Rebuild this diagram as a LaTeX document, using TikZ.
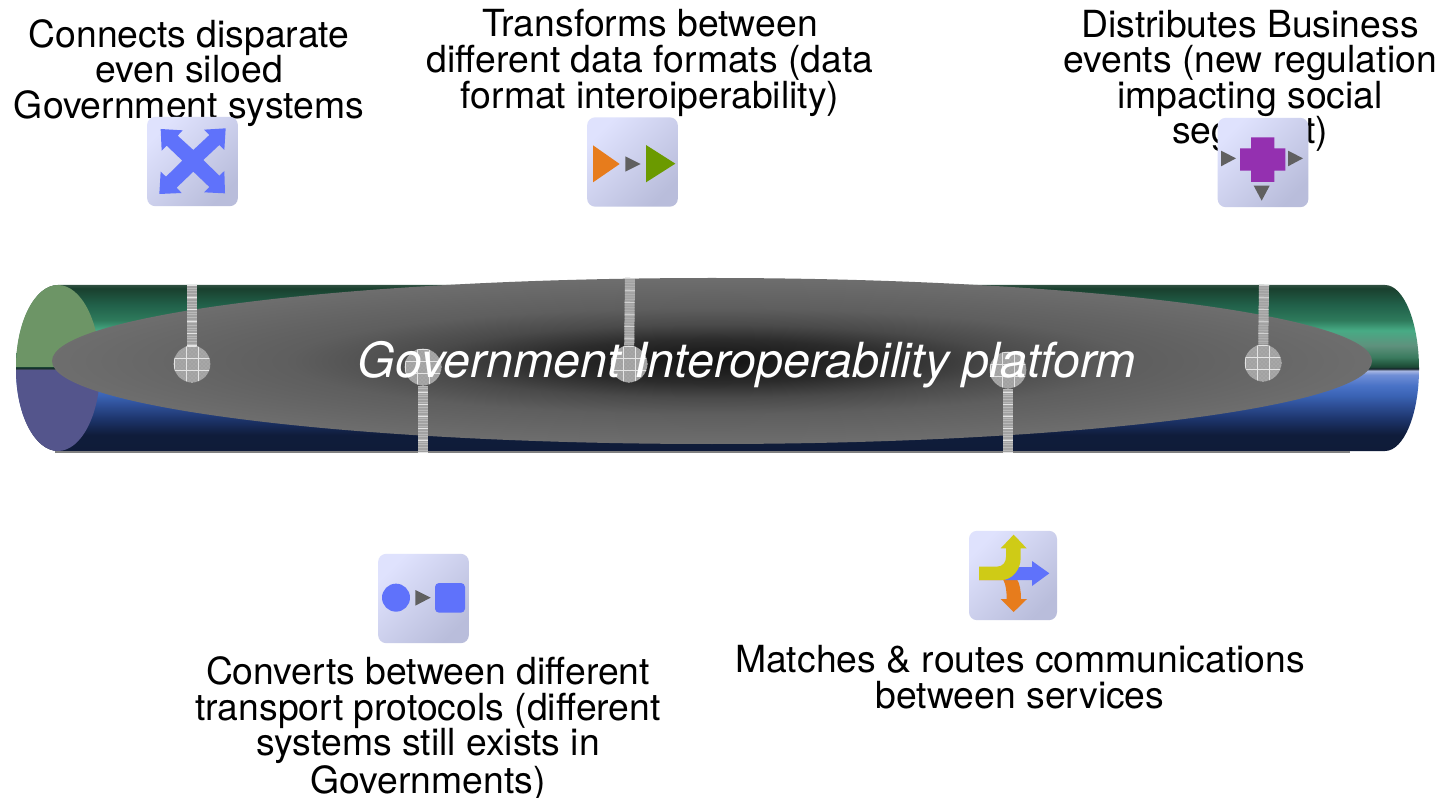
\documentclass[tikz,border=0pt]{standalone}
\usepackage{fontspec}
\setmainfont{TeX Gyre Heros}
\usetikzlibrary{positioning,patterns,shapes.geometric}

\definecolor{capgreen}{HTML}{6D9566}
\definecolor{capblue}{HTML}{54558C}
\definecolor{hubgray}{HTML}{A2A2A2}
\definecolor{hublight}{HTML}{BABABA}
\definecolor{hubgrid}{HTML}{E4E4E4}
\definecolor{glyphgray}{HTML}{606060}
\definecolor{glyphblue}{HTML}{5F72FB}
\definecolor{glyphorange}{HTML}{E77C1C}
\definecolor{glyphgreen}{HTML}{6B9A00}
\definecolor{glyphpurple}{HTML}{9430B0}
\definecolor{glyphyellow}{HTML}{CFCB16}
\definecolor{iconlight}{HTML}{DFE2FD}
\definecolor{icondark}{HTML}{B9BDDB}

\pgfdeclareverticalshading{pipegreen}{100bp}{rgb(0bp)=(.10,.17,.20); rgb(25bp)=(.10,.17,.20); rgb(26.5bp)=(.11,.29,.21);
  rgb(29bp)=(.16,.38,.28); rgb(32bp)=(.23,.48,.37); rgb(39bp)=(.37,.57,.49); rgb(48bp)=(.28,.67,.52);
  rgb(54bp)=(.18,.48,.36); rgb(63bp)=(.13,.38,.29); rgb(73bp)=(.10,.25,.18); rgb(75bp)=(.18,.31,.25); rgb(100bp)=(.18,.31,.25)}
\pgfdeclareverticalshading{pipeblue}{100bp}{rgb(0bp)=(.06,.10,.20); rgb(35bp)=(.06,.11,.23);
  rgb(44bp)=(.11,.20,.41); rgb(53bp)=(.18,.31,.59); rgb(59bp)=(.23,.39,.71); rgb(65bp)=(.29,.45,.78);
  rgb(71.5bp)=(.44,.56,.84); rgb(74bp)=(.66,.72,.89); rgb(75bp)=(.2,.25,.3); rgb(100bp)=(.2,.25,.3)}
\pgfdeclareradialshading{platformglow}{\pgfpoint{0bp}{0bp}}{rgb(0bp)=(.07,.07,.07); rgb(6.5bp)=(.17,.17,.17);
  rgb(11bp)=(.29,.29,.29); rgb(16bp)=(.37,.37,.37); rgb(25bp)=(.43,.43,.43); rgb(100bp)=(.43,.43,.43)}

\tikzset{
  caption/.style={align=center, inner sep=0pt, font=\fontsize{28}{26.7}\selectfont},
  iconbox/.style={rectangle, rounded corners=6pt, inner sep=0pt, minimum width=68pt, minimum height=67pt,
    top color=iconlight, bottom color=icondark, shading angle=45},
  hub/.style={circle, inner sep=0pt, minimum size=27.5pt, pattern=crosshatch dots, pattern color=hublight,
    preaction={fill=hubgray},
    path picture={
      \foreach \d in {-18,-6,6,18} {
        \draw[hubgrid,line width=.5pt] ([xshift=\d*.75pt,yshift=-20pt]path picture bounding box.center)
          -- ([xshift=\d*.75pt,yshift=20pt]path picture bounding box.center);
        \draw[hubgrid,line width=.5pt] ([yshift=\d*.75pt,xshift=-20pt]path picture bounding box.center)
          -- ([yshift=\d*.75pt,xshift=20pt]path picture bounding box.center);
      }}},
  stem/.style={draw=hubgray, line width=7.5pt,
    postaction={draw=hublight, dash pattern=on .5pt off 1.5pt},
    postaction={draw=hubgrid, dash pattern=on .5pt off 8.5pt}},
  glyph/.style={shift={#1}, x=.25pt, y=-.25pt}
}

\begin{document}
\begin{tikzpicture}[x=.75pt,y=-.75pt]
\path[use as bounding box,fill=white] (0,0) rectangle (1442,798);

% pipe
\shade[shading=pipegreen] (16,369) arc[start angle=180,end angle=90,x radius=31.5pt,y radius=63pt]
  -- (1385,285) arc[start angle=90,end angle=0,x radius=25.5pt,y radius=63pt] -- cycle;
\shade[shading=pipeblue] (16,369) arc[start angle=180,end angle=270,x radius=31.5pt,y radius=61.5pt]
  -- (1385,451) arc[start angle=270,end angle=360,x radius=25.5pt,y radius=61.5pt] -- cycle;
\fill[capgreen] (16,367) arc[start angle=180,end angle=0,x radius=31.5pt,y radius=61.5pt] -- cycle;
\fill[capblue] (16,370) arc[start angle=180,end angle=360,x radius=31.5pt,y radius=60.75pt] -- cycle;
\draw[gray,line width=2pt] (55,452) -- (1350,452);

\node[ellipse,shading=platformglow,inner sep=0pt,minimum width=990pt,minimum height=124.5pt] (platform) at (712,361) {};

% hubs and stems
\coordinate (top1) at (192,285);
\coordinate (top2) at (630,278);
\coordinate (top3) at (1264,285);
\coordinate (low1) at (423,453);
\coordinate (low2) at (1008,453);
\node[hub] (hub1) at (192,364) {};
\node[hub] (hub2) at (423,367) {};
\node[hub] (hub3) at (629,364) {};
\node[hub] (hub4) at (1008,370) {};
\node[hub] (hub5) at (1263,363) {};
\draw[stem] (top1) -- (hub1);
\draw[stem] (top2) -- (hub3);
\draw[stem] (top3) -- (hub5);
\draw[stem] (low1) -- (hub2);
\draw[stem] (low2) -- (hub4);

\node[text=white,inner sep=0pt,font=\fontsize{36.3}{36}\selectfont\itshape] (platformtext) at (747,365) {Government Interoperability platform};

% captions
\node[caption] (capconnect) at (189,73) {Connects disparate\\even siloed\\Government systems};
\node[caption] (captransform) at (650,63) {Transforms between\\different data formats (data\\format interoiperability)};
\node[caption] (capdistribute) at (1250,81) {Distributes Business\\events (new regulation\\impacting social\\segment)};
\node[caption] (capconvert) at (428,729) {Converts between different\\transport protocols (different\\systems still exists in\\Governments)};
\node[caption] (capmatch) at (1020,677) {Matches \& routes communications\\between services};

% icons
\node[iconbox] (iconconnect) at (192.5,161.5) {};
\node[iconbox] (icontransform) at (632.5,162) {};
\node[iconbox] (icondistribute) at (1263,162.5) {};
\node[iconbox] (iconconvert) at (423.5,598.5) {};
\node[iconbox,minimum width=66pt] (iconmatch) at (1013,575.5) {};

\begin{scope}[glyph={(130,105)}]
\fill[glyphblue] (92,72) -- (158,76) -- (143,92) -- (190,135) -- (238,90) -- (222,74) -- (287,70) -- (283,135)
  -- (268,120) -- (220,165) -- (268,212) -- (283,198) -- (285,265) -- (222,262) -- (238,246) -- (190,200)
  -- (140,248) -- (155,264) -- (88,267) -- (92,200) -- (108,215) -- (157,167) -- (110,122) -- (95,137) -- cycle;
\end{scope}

\begin{scope}[glyph={(575,105)}]
\fill[glyphorange] (54,121) -- (134,177) -- (54,232) -- cycle;
\fill[glyphgray] (151,154) -- (197,177) -- (151,200) -- cycle;
\fill[glyphgreen] (213,120) -- (301,176) -- (213,232) -- cycle;
\end{scope}

\begin{scope}[glyph={(1165,105)}]
\fill[glyphpurple] (258,97) -- (328,97) -- (328,130) -- (361,130) -- (361,197) -- (328,197) -- (328,231)
  -- (258,231) -- (258,197) -- (225,197) -- (225,130) -- (258,130) -- cycle;
\fill[glyphgray] (168,137) -- (213,160) -- (168,184) -- cycle;
\fill[glyphgray] (369,137) -- (414,160) -- (369,184) -- cycle;
\fill[glyphgray] (266,242) -- (314,242) -- (290,287) -- cycle;
\end{scope}

\begin{scope}[glyph={(365,545)}]
\fill[glyphblue] (93,158) circle[radius=10.5pt];
\fill[glyphgray] (151,135) -- (197,158) -- (151,182) -- cycle;
\fill[glyphblue,rounded corners=3pt] (210,114) rectangle (300,203);
\end{scope}

\begin{scope}[glyph={(955,520)}]
\fill[glyphorange] (72,180) -- (145,180) .. controls (153,195) and (155,215) .. (155,237) -- (137,237) -- (176,276)
  -- (216,237) -- (198,237) .. controls (198,215) and (195,190) .. (185,176) -- (72,176) -- cycle;
\fill[glyphblue] (150,141) -- (231,141) -- (231,123) -- (283,160) -- (231,198) -- (231,180) -- (150,180) -- cycle;
\fill[glyphyellow] (72,140) -- (125,140) .. controls (145,140) and (153,125) .. (153,110) -- (153,85) -- (137,85)
  -- (176,44) -- (215,85) -- (197,85) -- (197,115) .. controls (197,150) and (170,180) .. (140,180) -- (72,180) -- cycle;
\end{scope}
\end{tikzpicture}
\end{document}
